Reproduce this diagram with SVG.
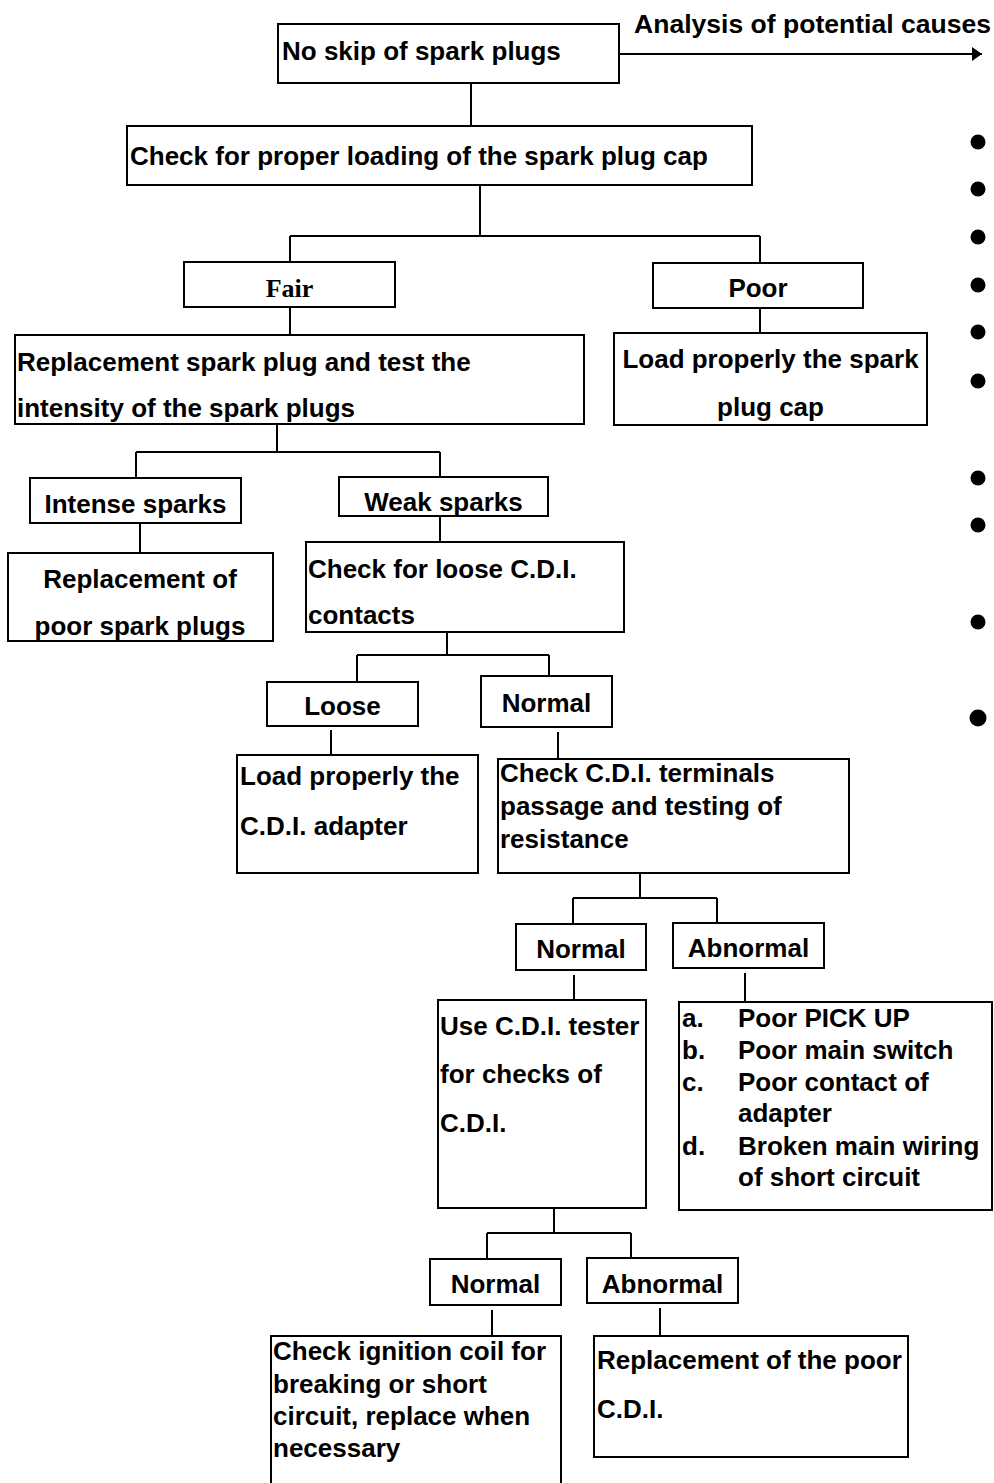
<svg xmlns="http://www.w3.org/2000/svg" width="994" height="1483" viewBox="0 0 994 1483">
<defs>
<style>
.box{fill:#fff;stroke:#000;stroke-width:2}
.c{fill:none;stroke:#000;stroke-width:2}
text{font-family:"Liberation Sans",Arial,sans-serif;font-weight:bold;font-size:26px;fill:#000}
.m{text-anchor:middle}
.serif{font-family:"Liberation Serif","Times New Roman",serif}
</style>
<marker id="ah" markerUnits="userSpaceOnUse" markerWidth="10" markerHeight="14" refX="10" refY="7" orient="auto">
<path d="M0,0 L10,7 L0,14 z" fill="#000"/>
</marker>
</defs>
<rect width="994" height="1483" fill="#fff"/>

<g id="connectors">
<line class="c" x1="619" y1="54" x2="982" y2="54" marker-end="url(#ah)"/>
<path class="c" d="M471,83 V126"/>
<path class="c" d="M480,185 V236 M290,236 H760 M290,236 V262 M760,236 V263"/>
<path class="c" d="M290,307 V335"/>
<path class="c" d="M760,308 V333"/>
<path class="c" d="M277,424 V452 M136,452 H440 M136,452 V478 M440,452 V477"/>
<path class="c" d="M140,523 V554"/>
<path class="c" d="M440,516 V542"/>
<path class="c" d="M447,632 V655 M357,655 H549 M357,655 V682 M549,655 V676"/>
<path class="c" d="M331,730 V759"/>
<path class="c" d="M558,732 V762"/>
<path class="c" d="M640,873 V898 M573,898 H717 M573,898 V924 M717,898 V923"/>
<path class="c" d="M574,975 V1000"/>
<path class="c" d="M745,973 V1004"/>
<path class="c" d="M554,1208 V1233 M487,1233 H631 M487,1233 V1259 M631,1233 V1258"/>
<path class="c" d="M492,1310 V1336"/>
<path class="c" d="M660,1308 V1338"/>
</g>

<g id="analysis-label">
<text x="634" y="33" textLength="357" lengthAdjust="spacingAndGlyphs">Analysis of potential causes</text>
</g>

<g id="cause-bullets" fill="#000">
<circle cx="978" cy="142" r="7.5"/>
<circle cx="978" cy="189" r="7.5"/>
<circle cx="978" cy="237" r="7.5"/>
<circle cx="978" cy="285" r="7.5"/>
<circle cx="978" cy="332" r="7.5"/>
<circle cx="978" cy="381" r="7.5"/>
<circle cx="978" cy="478" r="7.5"/>
<circle cx="978" cy="525" r="7.5"/>
<circle cx="978" cy="622" r="7.5"/>
<circle cx="978" cy="718" r="8.5"/>
</g>

<g id="n-noskip">
<rect class="box" x="278" y="24" width="341" height="59"/>
<text x="282" y="60">No skip of spark plugs</text>
</g>

<g id="n-checkcap">
<rect class="box" x="127" y="126" width="625" height="59"/>
<text x="130" y="165">Check for proper loading of the spark plug cap</text>
</g>

<g id="n-fair">
<rect class="box" x="184" y="262" width="211" height="45"/>
<text class="m serif" x="289.5" y="297">Fair</text>
</g>

<g id="n-poor">
<rect class="box" x="653" y="263" width="210" height="45"/>
<text class="m" x="758" y="297">Poor</text>
</g>

<g id="n-replace-test">
<rect class="box" x="15" y="335" width="569" height="89"/>
<text x="17" y="371">Replacement spark plug and test the</text>
<text x="17" y="417">intensity of the spark plugs</text>
</g>

<g id="n-loadcap">
<rect class="box" x="614" y="333" width="313" height="92"/>
<text class="m" x="770.5" y="368">Load properly the spark</text>
<text class="m" x="770.5" y="416">plug cap</text>
</g>

<g id="n-intense">
<rect class="box" x="30" y="478" width="211" height="45"/>
<text class="m" x="135.5" y="513">Intense sparks</text>
</g>

<g id="n-weak">
<rect class="box" x="339" y="477" width="209" height="39"/>
<text class="m" x="443.5" y="511">Weak sparks</text>
</g>

<g id="n-replace-poor">
<rect class="box" x="8" y="553" width="265" height="88"/>
<text class="m" x="140" y="588">Replacement of</text>
<text class="m" x="140" y="635">poor spark plugs</text>
</g>

<g id="n-checkloose">
<rect class="box" x="306" y="542" width="318" height="90"/>
<text x="308" y="578">Check for loose C.D.I.</text>
<text x="308" y="624">contacts</text>
</g>

<g id="n-loose">
<rect class="box" x="267" y="682" width="151" height="44"/>
<text class="m" x="342.5" y="715">Loose</text>
</g>

<g id="n-normal1">
<rect class="box" x="481" y="676" width="131" height="51"/>
<text class="m" x="546.5" y="712">Normal</text>
</g>

<g id="n-loadcdi">
<rect class="box" x="237" y="755" width="241" height="118"/>
<text x="240" y="785">Load properly the</text>
<text x="240" y="835">C.D.I. adapter</text>
</g>

<g id="n-checkcdi">
<rect class="box" x="498" y="759" width="351" height="114"/>
<text x="500" y="782">Check C.D.I. terminals</text>
<text x="500" y="815">passage and testing of</text>
<text x="500" y="848">resistance</text>
</g>

<g id="n-normal2">
<rect class="box" x="516" y="924" width="130" height="46"/>
<text class="m" x="581" y="958">Normal</text>
</g>

<g id="n-abnormal1">
<rect class="box" x="673" y="923" width="151" height="45"/>
<text class="m" x="748.5" y="957">Abnormal</text>
</g>

<g id="n-usecdi">
<rect class="box" x="438" y="1000" width="208" height="208"/>
<text x="440" y="1035">Use C.D.I. tester</text>
<text x="440" y="1083">for checks of</text>
<text x="440" y="1132">C.D.I.</text>
</g>

<g id="n-list">
<rect class="box" x="679" y="1002" width="313" height="208"/>
<text x="682" y="1027">a.</text><text x="738" y="1027">Poor PICK UP</text>
<text x="682" y="1059">b.</text><text x="738" y="1059">Poor main switch</text>
<text x="682" y="1091">c.</text><text x="738" y="1091">Poor contact of</text>
<text x="738" y="1122">adapter</text>
<text x="682" y="1155">d.</text><text x="738" y="1155">Broken main wiring</text>
<text x="738" y="1186">of short circuit</text>
</g>

<g id="n-normal3">
<rect class="box" x="430" y="1259" width="131" height="46"/>
<text class="m" x="495.5" y="1293">Normal</text>
</g>

<g id="n-abnormal2">
<rect class="box" x="587" y="1258" width="151" height="45"/>
<text class="m" x="662.5" y="1293">Abnormal</text>
</g>

<g id="n-checkcoil">
<path class="box" d="M271,1490 V1336 H561 V1490"/>
<text x="273" y="1360">Check ignition coil for</text>
<text x="273" y="1393">breaking or short</text>
<text x="273" y="1425">circuit, replace when</text>
<text x="273" y="1457">necessary</text>
</g>

<g id="n-replace-cdi">
<rect class="box" x="594" y="1336" width="314" height="121"/>
<text x="597" y="1369">Replacement of the poor</text>
<text x="597" y="1418">C.D.I.</text>
</g>
</svg>
